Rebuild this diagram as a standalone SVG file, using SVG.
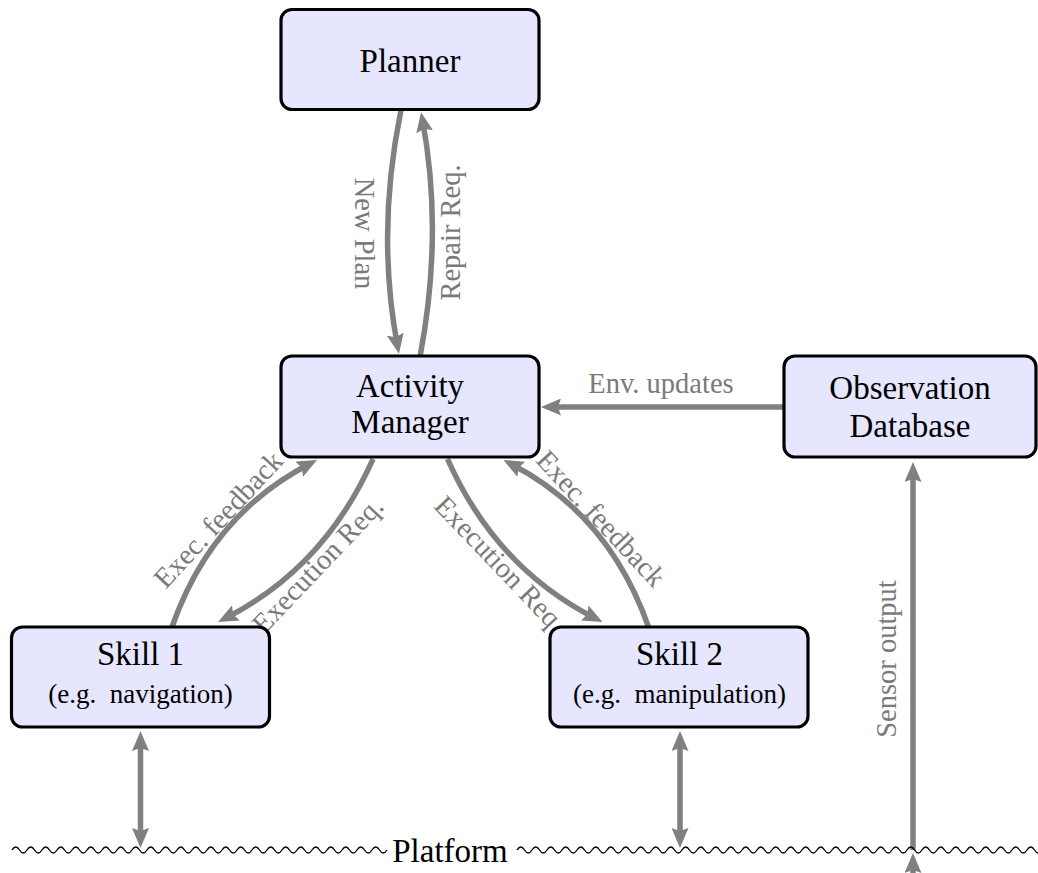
<svg xmlns="http://www.w3.org/2000/svg" width="1038" height="873" viewBox="0 0 1038 873">
<style>
.node rect{fill:#e6e6ff;stroke:#000;stroke-width:3.2}
.t{font-family:"Liberation Serif","Times New Roman",serif;font-size:33px;fill:#000;text-anchor:middle}
.s{font-family:"Liberation Serif","Times New Roman",serif;font-size:27px;fill:#000;text-anchor:middle}
.lbl{font-family:"Liberation Serif","Times New Roman",serif;font-size:28.5px;fill:#7a7a7a;text-anchor:middle}
.c{fill:none;stroke:#808080;stroke-width:5.5;marker-end:url(#ah)}
.d{marker-start:url(#ah)}
.wave{fill:none;stroke:#000;stroke-width:1.3}
</style>
<defs>
<marker id="ah" viewBox="0 0 20 17" refX="12" refY="8.5" markerUnits="userSpaceOnUse" markerWidth="20" markerHeight="17" orient="auto-start-reverse">
<path d="M0,0 L20,8.5 L0,17 L3,8.5 z" fill="#808080"/>
</marker>
</defs>
<rect width="1038" height="873" fill="#fff"/>
<g id="connectors">
<path class="c" d="M401,110 Q376,232 397.5,346"/>
<path class="c" d="M420,357 Q443.5,233 422.5,120"/>
<path class="c" d="M172,627 Q211.3,514.6 309.9,463.7"/>
<path class="c" d="M373,459 Q324.5,568 225.1,618.4"/>
<path class="c" d="M447.5,459 Q496,568 595.4,618.4"/>
<path class="c" d="M648.5,627 Q609.2,514.6 510.6,463.7"/>
<path class="c" d="M783,407 L549,407"/>
<path class="c d" d="M140.5,739 L140.5,840"/>
<path class="c d" d="M680,739 L680,840"/>
<path class="c" d="M913,850 L913,470"/>
<path class="c" d="M913,877 L913,861"/>
</g>
<g id="labels">
<text class="lbl" transform="translate(355,233.5) rotate(90)">New Plan</text>
<text class="lbl" transform="translate(460,232.5) rotate(-90)">Repair Req.</text>
<text class="lbl" x="661" y="393">Env. updates</text>
<text class="lbl" transform="translate(225,526) rotate(-47)">Exec. feedback</text>
<text class="lbl" transform="translate(324.5,571.5) rotate(-46.4)">Execution Req.</text>
<text class="lbl" transform="translate(491,568) rotate(46.4)">Execution Req</text>
<text class="lbl" transform="translate(594,525) rotate(47)">Exec. feedback</text>
<text class="lbl" transform="translate(896,659) rotate(-90)">Sensor output</text>
</g>
<g id="planner" class="node">
<rect x="281" y="9.5" width="258" height="100" rx="11"/>
<text class="t" x="410" y="72">Planner</text>
</g>
<g id="activity-manager" class="node">
<rect x="281" y="356" width="258" height="101" rx="11"/>
<text class="t" x="410" y="397">Activity</text>
<text class="t" x="410" y="433">Manager</text>
</g>
<g id="observation-database" class="node">
<rect x="784" y="356" width="252" height="101" rx="11"/>
<text class="t" x="910" y="399">Observation</text>
<text class="t" x="910" y="437">Database</text>
</g>
<g id="skill1" class="node">
<rect x="11.5" y="627" width="258" height="100" rx="11"/>
<text class="t" x="140.5" y="665">Skill 1</text>
<text class="s" x="140.5" y="703" xml:space="preserve">(e.g.  navigation)</text>
</g>
<g id="skill2" class="node">
<rect x="550" y="627" width="258" height="100" rx="11"/>
<text class="t" x="679.5" y="665">Skill 2</text>
<text class="s" x="679.5" y="703" xml:space="preserve">(e.g.  manipulation)</text>
</g>
<g id="platform">
<path class="wave" d="M12,850 q3.75,-6 7.5,0 t7.5,0 t7.5,0 t7.5,0 t7.5,0 t7.5,0 t7.5,0 t7.5,0 t7.5,0 t7.5,0 t7.5,0 t7.5,0 t7.5,0 t7.5,0 t7.5,0 t7.5,0 t7.5,0 t7.5,0 t7.5,0 t7.5,0 t7.5,0 t7.5,0 t7.5,0 t7.5,0 t7.5,0 t7.5,0 t7.5,0 t7.5,0 t7.5,0 t7.5,0 t7.5,0 t7.5,0 t7.5,0 t7.5,0 t7.5,0 t7.5,0 t7.5,0 t7.5,0 t7.5,0 t7.5,0 t7.5,0 t7.5,0 t7.5,0 t7.5,0 t7.5,0 t7.5,0 t7.5,0 t7.5,0 t7.5,0 t7.5,0"/>
<text class="t" x="450" y="862">Platform</text>
<path class="wave" d="M517,850 q3.75,-6 7.5,0 t7.5,0 t7.5,0 t7.5,0 t7.5,0 t7.5,0 t7.5,0 t7.5,0 t7.5,0 t7.5,0 t7.5,0 t7.5,0 t7.5,0 t7.5,0 t7.5,0 t7.5,0 t7.5,0 t7.5,0 t7.5,0 t7.5,0 t7.5,0 t7.5,0 t7.5,0 t7.5,0 t7.5,0 t7.5,0 t7.5,0 t7.5,0 t7.5,0 t7.5,0 t7.5,0 t7.5,0 t7.5,0 t7.5,0 t7.5,0 t7.5,0 t7.5,0 t7.5,0 t7.5,0 t7.5,0 t7.5,0 t7.5,0 t7.5,0 t7.5,0 t7.5,0 t7.5,0 t7.5,0 t7.5,0 t7.5,0 t7.5,0 t7.5,0 t7.5,0 t7.5,0 t7.5,0 t7.5,0 t7.5,0 t7.5,0 t7.5,0 t7.5,0 t7.5,0 t7.5,0 t7.5,0 t7.5,0 t7.5,0 t7.5,0 t7.5,0 t7.5,0 t7.5,0 t7.5,0 t7.5,0"/>
</g>
</svg>
